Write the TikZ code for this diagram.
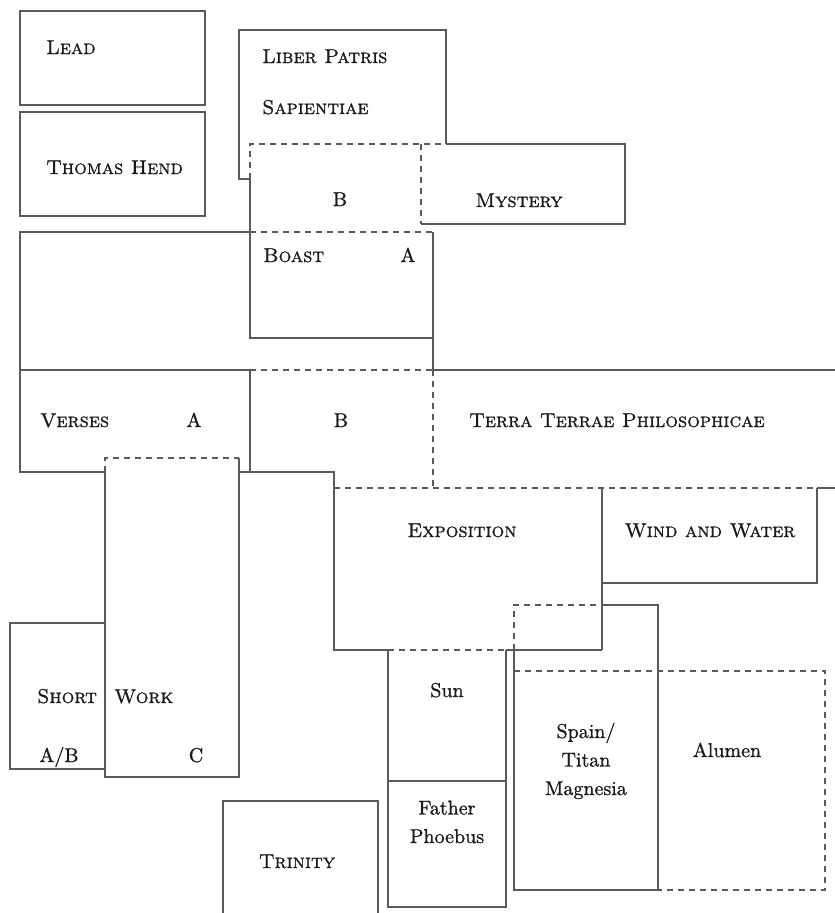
\documentclass[tikz,border=0pt]{standalone}
\usepackage{fontspec}
\newfontfamily\labelfont{lmroman10-regular.otf}[
  FakeBold=1.0,
  SmallCapsFont=lmromancaps10-regular.otf,
  SmallCapsFeatures={FakeBold=1.0}]
\definecolor{linegray}{HTML}{5A5A5A}
\definecolor{ink}{HTML}{1A1A1A}
\begin{document}
\begin{tikzpicture}[x=1pt,y=-1pt,
  wall/.style={draw=linegray, line width=1.2pt, line join=miter},
  seam/.style={wall, dash pattern=on 6pt off 5pt},
  lbl/.style={inner sep=0pt, text=ink, font=\labelfont\fontsize{20}{28.5}\selectfont},
  lblL/.style={lbl, anchor=base west},
  lblC/.style={lbl, anchor=base},
  stack/.style={lbl, align=center, anchor=base}]
\useasboundingbox (0,0) rectangle (835,913);

% solid outlines
\draw[wall] (20,11) rectangle (205,105);
\draw[wall] (20,112) rectangle (205,216);
\draw[wall] (250,179) -- (239,179) -- (239,30) -- (446,30) -- (446,144);
\draw[wall] (446,144) -- (625,144) -- (625,224) -- (421,224);
\draw[wall] (250,179) -- (250,338) -- (433,338);
\draw[wall] (433,232) -- (433,370);
\draw[wall] (250,232) -- (20,232) -- (20,472) -- (105,472);
\draw[wall] (20,370) -- (250,370);
\draw[wall] (433,370) -- (835,370);
\draw[wall] (250,370) -- (250,472);
\draw[wall] (239,472) -- (334,472) -- (334,650) -- (388,650);
\draw[wall] (105,472) -- (105,777) -- (239,777) -- (239,458);
\draw[wall] (105,623) -- (10,623) -- (10,769) -- (105,769);
\draw[wall] (817,488) -- (835,488);
\draw[wall] (506,650) -- (602,650);
\draw[wall] (602,488) -- (602,650);
\draw[wall] (817,488) -- (817,583) -- (602,583);
\draw[wall] (388,650) -- (388,907) -- (506,907) -- (506,650);
\draw[wall] (388,781) -- (506,781);
\draw[wall] (602,605) -- (658,605) -- (658,890) -- (514,890) -- (514,650);
\draw[wall] (223,913) -- (223,801) -- (378,801) -- (378,913);

% dashed seams
\draw[seam] (250,179) -- (250,144) -- (446,144);
\draw[seam] (421,144) -- (421,224);
\draw[seam] (250,232) -- (433,232);
\draw[seam] (250,370) -- (433,370);
\draw[seam] (433,370) -- (433,488);
\draw[seam] (334,488) -- (817,488);
\draw[seam] (105,472) -- (105,458) -- (239,458);
\draw[seam] (388,650) -- (506,650);
\draw[seam] (514,650) -- (514,605) -- (602,605);
\draw[seam] (514,671) -- (825,671) -- (825,890) -- (658,890);

% labels
\node[lblL] (lead) at (46,54) {\textsc{Lead}};
\node[lblL] (hend) at (46,174) {\textsc{Thomas Hend}};
\node[lblL] (liber) at (262,63) {\textsc{Liber Patris}};
\node[lblL] (sapient) at (262,114) {\textsc{Sapientiae}};
\node[lblC] (topB) at (340,206) {B};
\node[lblC] (mystery) at (519,207) {\textsc{Mystery}};
\node[lblL] (boast) at (263,262) {\textsc{Boast}};
\node[lblC] (boastA) at (408,262) {A};
\node[lblL] (verses) at (40,427) {\textsc{Verses}};
\node[lblC] (versesA) at (194,427) {A};
\node[lblC] (midB) at (341,427) {B};
\node[lblL] (terra) at (469,427) {\textsc{Terra Terrae Philosophicae}};
\node[lblC] (expo) at (462,537) {\textsc{Exposition}};
\node[lblC] (wind) at (710,537) {\textsc{Wind and Water}};
\node[lblL] (short) at (37,703) {\textsc{Short}};
\node[lblL] (work) at (114,703) {\textsc{Work}};
\node[lblC] (shortAB) at (59,762) {A/B};
\node[lblC] (workC) at (196,762) {C};
\node[lblC] (trinity) at (297,868) {\textsc{Trinity}};
\node[lblC] (sun) at (447,697) {Sun};
\node[stack] (phoebus) at (447,843) {Father\\Phoebus};
\node[stack] (spain) at (586,795) {Spain/\\Titan\\Magnesia};
\node[lblC] (alumen) at (727,757) {Alumen};
\end{tikzpicture}
\end{document}
